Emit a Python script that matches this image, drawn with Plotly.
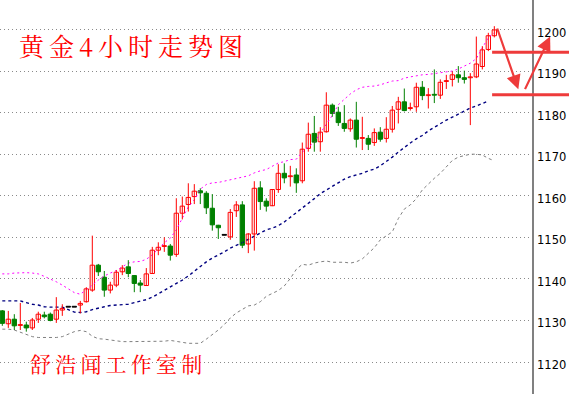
import numpy as np
import plotly.graph_objects as go

# ---- data (gold, 4h bars) ----
open_ = [1132.3,1129.2,1130.3,1128.8,1128.9,1128.2,1130.3,1131.3,1131.5,1130.3,
         1132.5,1133.2,1133.2,1133.7,1134.5,1137.3,1143.3,1140.4,1137.3,1138.5,
         1141.7,1142.9,1140.8,1139.0,1138.4,1141.3,1146.9,1147.8,1147.9,1145.9,
         1155.8,1157.9,1159.8,1161.2,1160.6,1157.0,1152.9,1150.5,1150.1,1156.4,
         1157.8,1148.4,1150.8,1161.9,1158.7,1157.6,1161.5,1165.4,1164.6,1165.0,
         1163.6,1171.4,1175.0,1173.0,1175.4,1181.8,1180.1,1177.4,1176.1,1178.2,
         1173.8,1173.8,1172.8,1175.3,1173.8,1176.0,1180.8,1182.6,1181.0,1181.4,
         1186.1,1184.1,1184.3,1184.2,1187.5,1188.0,1189.1,1188.4,1188.4,1188.6,
         1191.1,1195.2,1198.5]
high = [1132.5,1132.3,1131.5,1134.2,1129.7,1130.6,1132.1,1132.1,1131.9,1135.6,
        1133.9,1133.2,1133.2,1134.7,1138.0,1150.4,1143.6,1141.9,1139.3,1142.1,
        1143.3,1144.5,1140.9,1139.7,1142.6,1147.7,1148.8,1150.0,1148.4,1159.4,
        1159.8,1163.0,1162.8,1161.8,1161.1,1160.4,1153.0,1150.5,1156.8,1158.7,
        1158.7,1151.0,1163.5,1163.5,1159.4,1161.6,1167.6,1167.8,1167.2,1166.6,
        1172.8,1177.6,1179.2,1176.5,1184.9,1182.2,1181.4,1181.8,1178.6,1182.6,
        1179.0,1174.6,1176.2,1176.5,1178.9,1181.6,1183.8,1185.8,1182.4,1187.2,
        1187.6,1185.9,1190.4,1188.0,1189.1,1189.9,1191.2,1190.1,1189.5,1198.3,
        1196.0,1199.2,1200.8]
low = [1128.7,1128.2,1127.7,1127.7,1127.3,1127.7,1129.4,1130.5,1129.8,1129.4,
       1131.1,1133.2,1133.2,1131.7,1134.3,1136.9,1140.7,1135.7,1136.5,1138.0,
       1140.9,1140.4,1136.8,1136.8,1138.3,1141.2,1145.7,1146.5,1144.4,1145.3,
       1154.3,1156.2,1158.0,1158.0,1155.6,1151.6,1149.6,1150.5,1149.4,1154.9,
       1147.4,1146.2,1146.8,1156.6,1156.2,1157.5,1160.7,1163.0,1162.2,1160.7,
       1163.0,1170.6,1170.6,1170.6,1175.2,1179.0,1176.8,1175.4,1175.4,1171.6,
       1171.0,1171.0,1172.0,1173.0,1172.8,1175.2,1177.4,1180.3,1180.5,1180.2,
       1183.0,1181.0,1182.3,1183.3,1185.7,1186.3,1187.2,1187.0,1177.0,1188.3,
       1190.4,1194.8,1198.1]
close = [1129.3,1130.3,1128.7,1129.0,1128.2,1130.1,1131.5,1130.9,1130.0,1132.5,
         1132.9,1133.2,1133.2,1134.1,1137.6,1143.3,1141.7,1137.3,1138.5,1141.6,
         1142.6,1141.3,1138.9,1138.5,1141.2,1146.9,1147.6,1148.0,1145.7,1155.8,
         1157.5,1159.6,1161.1,1160.7,1157.1,1153.0,1152.3,1150.5,1156.0,1157.8,
         1148.1,1150.8,1161.8,1158.6,1157.5,1161.5,1165.4,1164.3,1164.7,1163.1,
         1171.2,1174.8,1172.9,1175.3,1181.8,1179.8,1177.6,1176.2,1178.2,1173.6,
         1173.9,1172.4,1175.2,1173.6,1176.0,1180.6,1182.6,1180.5,1181.1,1186.1,
         1184.1,1184.3,1184.2,1187.3,1187.7,1189.1,1188.4,1188.0,1188.6,1191.7,
         1195.1,1198.5,1199.9]

upper_band = [1141.2,1141.2,1141.4,1141.5,1141.5,1141.4,1141.2,1140.6,1140.0,1139.3,
              1138.5,1137.6,1136.7,1136.3,1137.3,1138.5,1139.7,1140.7,1141.4,1142.0,
              1142.9,1143.8,1144.1,1144.2,1144.7,1145.8,1147.2,1148.7,1149.8,1151.8,
              1154.6,1157.3,1159.0,1161.6,1162.7,1163.1,1163.2,1163.5,1163.8,1164.1,
              1164.4,1164.8,1165.5,1166.0,1166.3,1167.0,1167.9,1168.2,1168.7,1168.8,
              1170.5,1171.7,1172.9,1175.1,1177.3,1179.3,1181.9,1183.2,1184.5,1185.5,
              1186.1,1186.3,1186.4,1186.7,1187.1,1187.6,1187.7,1188.3,1188.6,1188.9,
              1189.1,1189.2,1189.4,1189.6,1189.8,1190.0,1190.5,1191.2,1191.9,1193.0,
              1195.5,1198.1,1199.2]
middle_band = [1134.7,1134.7,1134.7,1134.7,1134.3,1133.9,1133.7,1133.3,1133.2,1133.2,
               1133.2,1132.6,1132.0,1131.9,1132.1,1132.6,1133.0,1133.3,1133.6,1133.7,
               1133.8,1133.9,1134.3,1134.7,1135.0,1135.6,1136.4,1137.1,1137.9,1138.8,
               1139.7,1140.7,1141.9,1142.9,1144.1,1145.0,1145.7,1146.5,1147.4,1148.0,
               1148.7,1149.5,1150.2,1151.0,1151.8,1152.2,1152.8,1153.7,1154.8,1155.9,
               1157.0,1158.0,1159.3,1160.5,1161.4,1162.3,1163.2,1164.0,1164.6,1165.0,
               1165.4,1166.0,1166.4,1167.2,1168.2,1169.3,1170.5,1171.7,1172.7,1173.7,
               1174.5,1175.6,1176.5,1177.4,1178.2,1178.9,1179.7,1180.4,1181.1,1181.6,
               1182.2,1182.8,None]
lower_band = [1127.9,1127.9,1127.7,1127.2,1126.6,1126.1,1125.9,1125.9,1125.9,1125.9,
              1126.1,1126.7,1127.3,1127.6,1127.3,1126.2,1125.6,1125.5,1125.3,1125.0,
              1124.9,1124.9,1124.9,1124.9,1124.9,1124.9,1124.9,1125.0,1125.2,1125.0,
              1124.8,1124.5,1124.5,1124.5,1125.5,1126.5,1127.7,1129.0,1130.6,1131.8,
              1132.7,1133.5,1133.7,1134.5,1135.8,1136.6,1137.2,1138.3,1140.1,1142.3,
              1143.5,1143.3,1143.8,1144.1,1144.3,1144.0,1144.0,1144.0,1143.8,1144.1,
              1144.8,1146.1,1147.5,1149.4,1150.4,1151.3,1154.5,1156.8,1157.8,1159.3,
              1161.4,1162.9,1164.2,1165.4,1166.9,1168.5,1169.3,1169.7,1170.0,1170.0,
              1169.8,1169.0,1168.4]

y_ticks = [1120, 1130, 1140, 1150, 1160, 1170, 1180, 1190, 1200]
levels = [1194.5, 1184.3]
title_text = "黄金4小时走势图"
credit_text = "舒浩闻工作室制"

RED = "#FF0000"
GREEN = "#008000"
ANN = "#EE3B3B"

o = np.array(open_); h = np.array(high); l = np.array(low); c = np.array(close)
x = np.arange(len(o))
up = c > o
dn = c < o
dj = c == o

fig = go.Figure()

# bands
fig.add_trace(go.Scatter(x=x, y=lower_band, mode="lines",
                         line=dict(color="#808080", width=1, dash="3px,3px"), hoverinfo="skip"))
fig.add_trace(go.Scatter(x=x, y=upper_band, mode="lines",
                         line=dict(color="#FF00FF", width=1, dash="2px,3px"), hoverinfo="skip"))
fig.add_trace(go.Scatter(x=x, y=middle_band, mode="lines",
                         line=dict(color="#000080", width=1.4, dash="3px,3px"), hoverinfo="skip"))

def wicks(mask):
    xs, ys = [], []
    for i in np.where(mask)[0]:
        xs += [i, i, None]
        ys += [l[i], h[i], None]
    return xs, ys

for mask, col in [(up, RED), (dn, GREEN), (dj, "#000000")]:
    xs, ys = wicks(mask)
    fig.add_trace(go.Scatter(x=xs, y=ys, mode="lines", line=dict(color=col, width=1),
                             hoverinfo="skip"))

MINH = 0.2
def body(mask, fill, col):
    idx = np.where(mask)[0]
    base = np.minimum(o[idx], c[idx])
    hgt = np.maximum(np.abs(c[idx] - o[idx]), MINH)
    fig.add_trace(go.Bar(x=idx, y=hgt, base=base, width=0.72,
                         marker=dict(color=fill, line=dict(color=col, width=1)),
                         hoverinfo="skip"))

body(up, "#FFFFFF", RED)
body(dn, GREEN, GREEN)
body(dj, "#000000", "#000000")

# support / resistance levels
for lv in levels:
    fig.add_shape(type="line", xref="paper", yref="y", x0=0.925, x1=1.075, y0=lv, y1=lv,
                  line=dict(color=ANN, width=3), layer="above")

# arrows
fig.add_annotation(x=86.0, y=1185.6, ax=82.4, ay=1200.6, xref="x", yref="y",
                   axref="x", ayref="y", text="", showarrow=True, arrowhead=2,
                   arrowsize=1.3, arrowwidth=2.2, arrowcolor=ANN, standoff=0)
fig.add_annotation(x=91.3, y=1198.3, ax=87.0, ay=1185.3, xref="x", yref="y",
                   axref="x", ayref="y", text="", showarrow=True, arrowhead=2,
                   arrowsize=1.3, arrowwidth=2.2, arrowcolor=ANN, standoff=0)

cjk = "Noto Serif CJK SC, Noto Sans CJK SC"
fig.add_annotation(x=17 / 532, y=1 - 45 / 394, xref="paper", yref="paper",
                   xanchor="left", yanchor="middle", showarrow=False,
                   text="\u2009".join(title_text),
                   font=dict(family=cjk, size=25, color=RED))
fig.add_annotation(x=28 / 532, y=1 - 363 / 394, xref="paper", yref="paper",
                   xanchor="left", yanchor="middle", showarrow=False,
                   text="\u2009".join(credit_text),
                   font=dict(family=cjk, size=21, color=RED))

fig.update_layout(
    width=569, height=394,
    margin=dict(l=0, r=37, t=0, b=0),
    paper_bgcolor="white", plot_bgcolor="white",
    showlegend=False, barmode="overlay",
    xaxis=dict(range=[-0.383, 88.28], showgrid=False, zeroline=False,
               showticklabels=False, ticks="", showline=False, fixedrange=True),
    yaxis=dict(range=[1112.3, 1207.1], side="right", tickvals=y_ticks,
               showgrid=True, gridcolor="#8a8a8a", gridwidth=1, griddash="1px,3px",
               zeroline=False, showline=True, linecolor="#808080", linewidth=1.5,
               ticks="", ticklabelstandoff=1, ticklabelshift=3,
               tickfont=dict(family="DejaVu Sans", size=11.5, color="#000000")),
)

fig.write_html("out.html", config={"displayModeBar": False},
               post_script="document.body.style.margin='0px';")
